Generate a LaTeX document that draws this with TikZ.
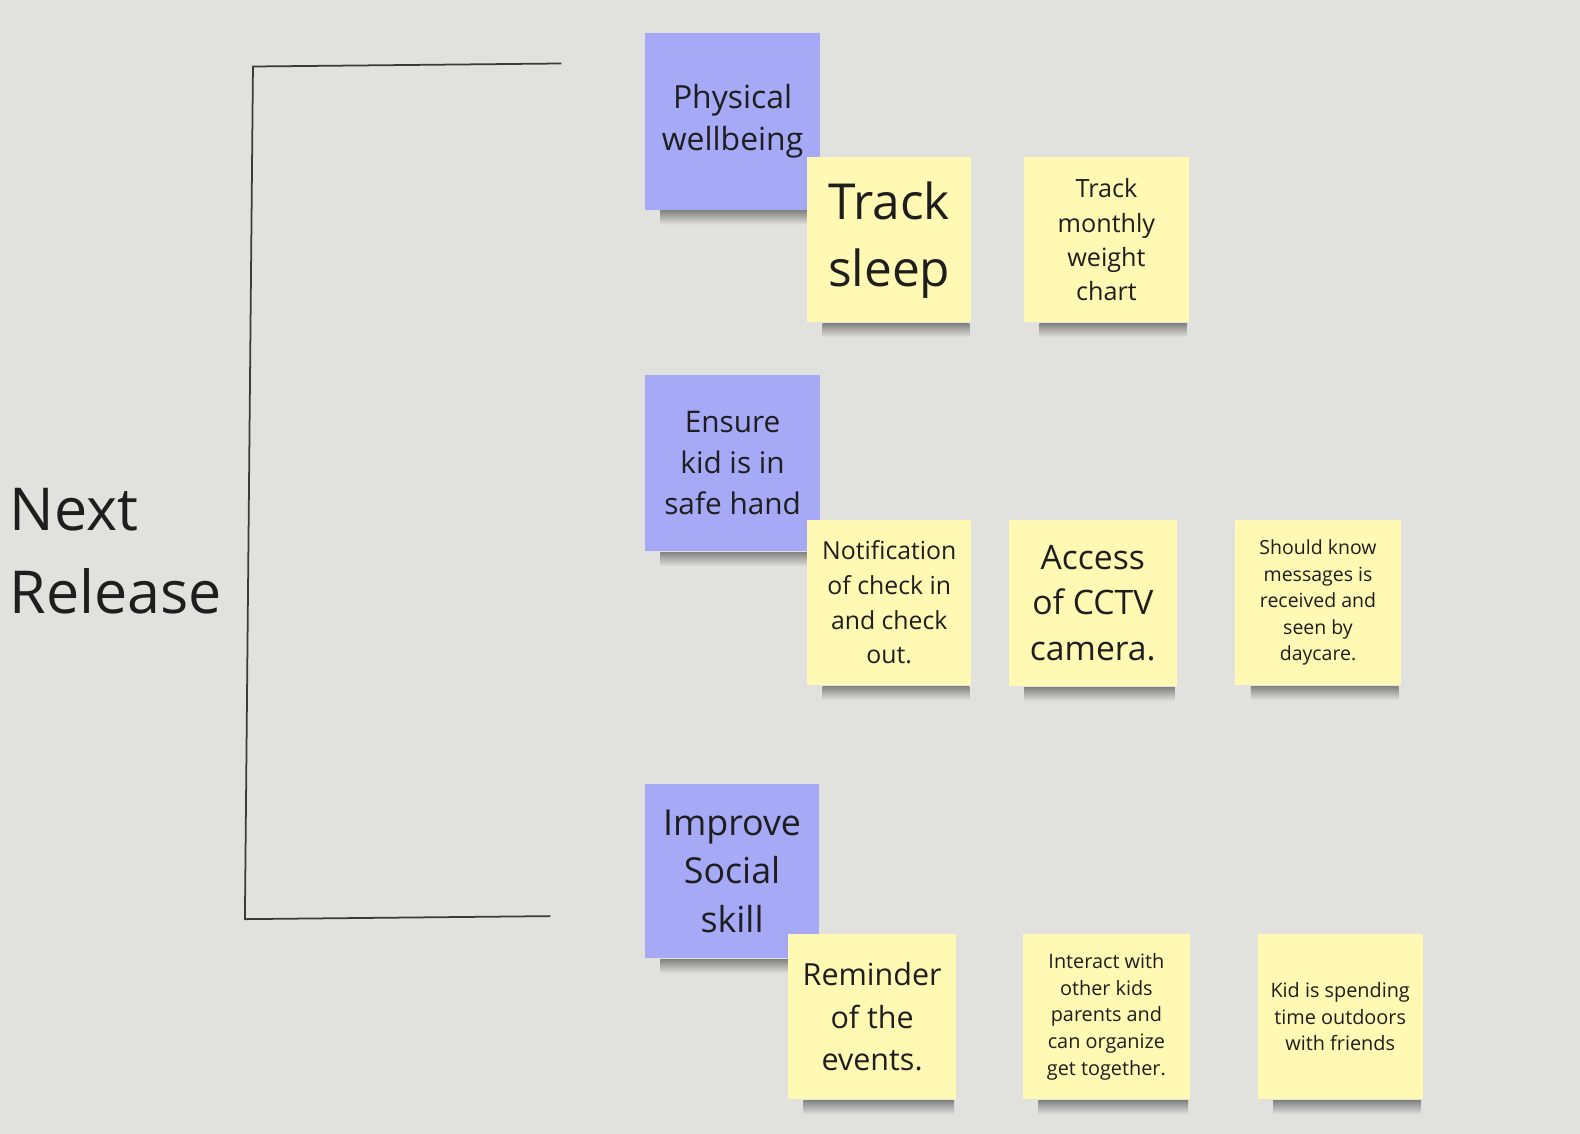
\documentclass[tikz,border=0pt]{standalone}
\usepackage{fontspec}
\setmainfont{Open Sans}
\usetikzlibrary{calc, backgrounds}
\definecolor{board}{HTML}{E1E1DE}
\definecolor{noteblue}{HTML}{A6AAF6}
\definecolor{noteyellow}{HTML}{FFF9B3}
\definecolor{ink}{HTML}{1E1E1E}
\definecolor{rule}{HTML}{3A3A3A}

\begin{document}
\begin{tikzpicture}[x = 0.01cm, y = -0.01cm, scale = 1.0077,
    note/.style = {rectangle, inner sep = 0pt, align = center, text = ink, transform shape},
    bluenote/.style = {note, fill = noteblue},
    yellownote/.style = {note, fill = noteyellow},
    notefall/.style = {top color = black!42!board, bottom color = board}]

            \useasboundingbox (0, 0) rectangle (1568, 1125.4);

            \node (title) at (9, 547) [anchor = west, align = left, text = ink, inner sep = 0pt,
                transform shape, font = \fontsize{16.7}{23.6}\selectfont] {Next\\Release};

            \coordinate (top1) at (251, 66);
            \coordinate (top2) at (557, 63);
            \coordinate (bot1) at (243, 912);
            \coordinate (bot2) at (546, 909);
            \draw[rule, line width = 0.5pt] (top2) -- (top1) -- (bot1) -- (bot2);

            \node (phys) at (727, 120.5) [bluenote, minimum width = 1.74cm, minimum height = 1.75cm,
                font = \fontsize{9}{12}\selectfont] {Physical\\wellbeing};
            \node (safe) at (727, 459.5) [bluenote, minimum width = 1.74cm, minimum height = 1.75cm,
                font = \fontsize{8.4}{11.5}\selectfont] {Ensure\\kid is in\\safe hand};
            \node (social) at (726.5, 864.5) [bluenote, minimum width = 1.73cm, minimum height = 1.73cm,
                font = \fontsize{10.1}{13.7}\selectfont] {Improve\\Social\\skill};

            \node (sleep) at (882.5, 238) [yellownote, minimum width = 1.63cm, minimum height = 1.64cm,
                font = \fontsize{14}{19}\selectfont] {Track\\sleep};
            \node (weight) at (1098, 238) [yellownote, minimum width = 1.64cm, minimum height = 1.64cm,
                font = \fontsize{7.1}{9.7}\selectfont] {Track\\monthly\\weight\\chart};

            \node (checkin) at (882.5, 598) [yellownote, minimum width = 1.63cm, minimum height = 1.64cm,
                font = \fontsize{7}{9.8}\selectfont] {Notification\\of check in\\and check\\out.};
            \node (cctv) at (1084.5, 598.5) [yellownote, minimum width = 1.67cm, minimum height = 1.65cm,
                font = \fontsize{9.5}{12.8}\selectfont] {Access\\of CCTV\\camera.};
            \node (seen) at (1308, 598) [yellownote, minimum width = 1.64cm, minimum height = 1.64cm,
                font = \fontsize{5.5}{7.5}\selectfont] {Should know\\messages is\\received and\\seen by\\daycare.};

            \node (events) at (865.5, 1009) [yellownote, minimum width = 1.67cm, minimum height = 1.64cm,
                font = \fontsize{8.6}{12}\selectfont] {Reminder\\of the\\events.};
            \node (parents) at (1098, 1009) [yellownote, minimum width = 1.66cm, minimum height = 1.64cm,
                font = \fontsize{5.6}{7.5}\selectfont] {Interact with\\other kids\\parents and\\can organize\\get together.};
            \node (outdoors) at (1330, 1009) [yellownote, minimum width = 1.64cm, minimum height = 1.64cm,
                font = \fontsize{5.6}{7.4}\selectfont] {Kid is spending\\time outdoors\\with friends};

            \begin{scope}[on background layer]
                \fill[board] (0, 0) rectangle (1568, 1125.4);
                \foreach \n in {phys, safe, social, sleep, weight, checkin, cctv, seen, events, parents, outdoors}
                    \shade[notefall] ($(\n.south west) + (16, 0)$) rectangle ($(\n.south east) + (-3, 14)$);
            \end{scope}
\end{tikzpicture}
\end{document}
